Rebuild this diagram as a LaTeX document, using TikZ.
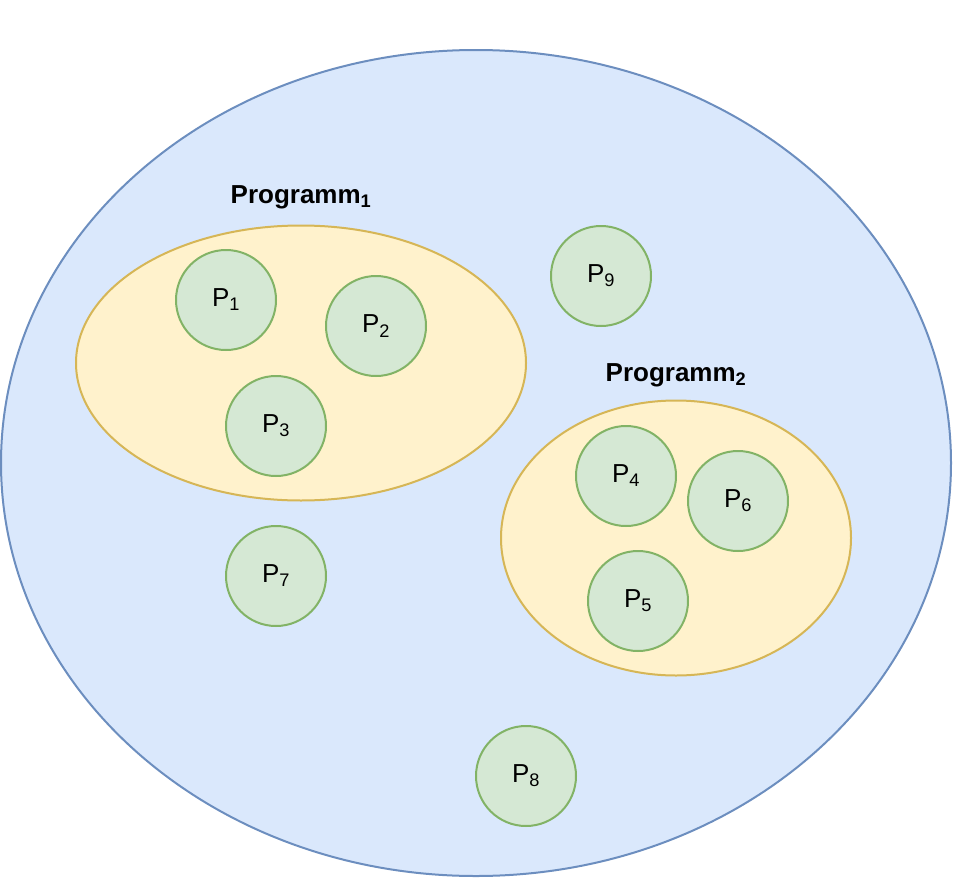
\documentclass[tikz,border=0pt]{standalone}
\usepackage{fontspec}
\setmainfont{Liberation Sans}
\usetikzlibrary{shapes.geometric}
\definecolor{bfill}{HTML}{DAE8FC}\definecolor{bline}{HTML}{6C8EBF}
\definecolor{yfill}{HTML}{FFF2CC}\definecolor{yline}{HTML}{D6B656}
\definecolor{gfill}{HTML}{D5E8D4}\definecolor{gline}{HTML}{82B366}
\begin{document}
\begin{tikzpicture}[x=1pt,y=-1pt,line width=2pt,
  proc/.style={circle,draw=gline,fill=gfill,minimum size=100pt,inner sep=0pt,font=\fontsize{26}{30}\selectfont},
  lbl/.style={font=\fontsize{26}{30}\selectfont\bfseries}]
\useasboundingbox (0,0) rectangle (953,878);
\draw[draw=bline,fill=bfill] (476,463) ellipse [x radius=475,y radius=413];
\draw[draw=yline,fill=yfill] (301,363) ellipse [x radius=225,y radius=137.5];
\draw[draw=yline,fill=yfill] (676,538) ellipse [x radius=175,y radius=137.5];
\node[lbl] (l1) at (301,197) {Programm\textsubscript{1}};
\node[lbl] (l2) at (676,375) {Programm\textsubscript{2}};
\node[proc] (p1) at (226,300) {P\textsubscript{1}};
\node[proc] (p2) at (376,326) {P\textsubscript{2}};
\node[proc] (p3) at (276,426) {P\textsubscript{3}};
\node[proc] (p9) at (601,276) {P\textsubscript{9}};
\node[proc] (p4) at (626,476) {P\textsubscript{4}};
\node[proc] (p6) at (738,501) {P\textsubscript{6}};
\node[proc] (p5) at (638,601) {P\textsubscript{5}};
\node[proc] (p7) at (276,576) {P\textsubscript{7}};
\node[proc] (p8) at (526,776) {P\textsubscript{8}};
\end{tikzpicture}
\end{document}
